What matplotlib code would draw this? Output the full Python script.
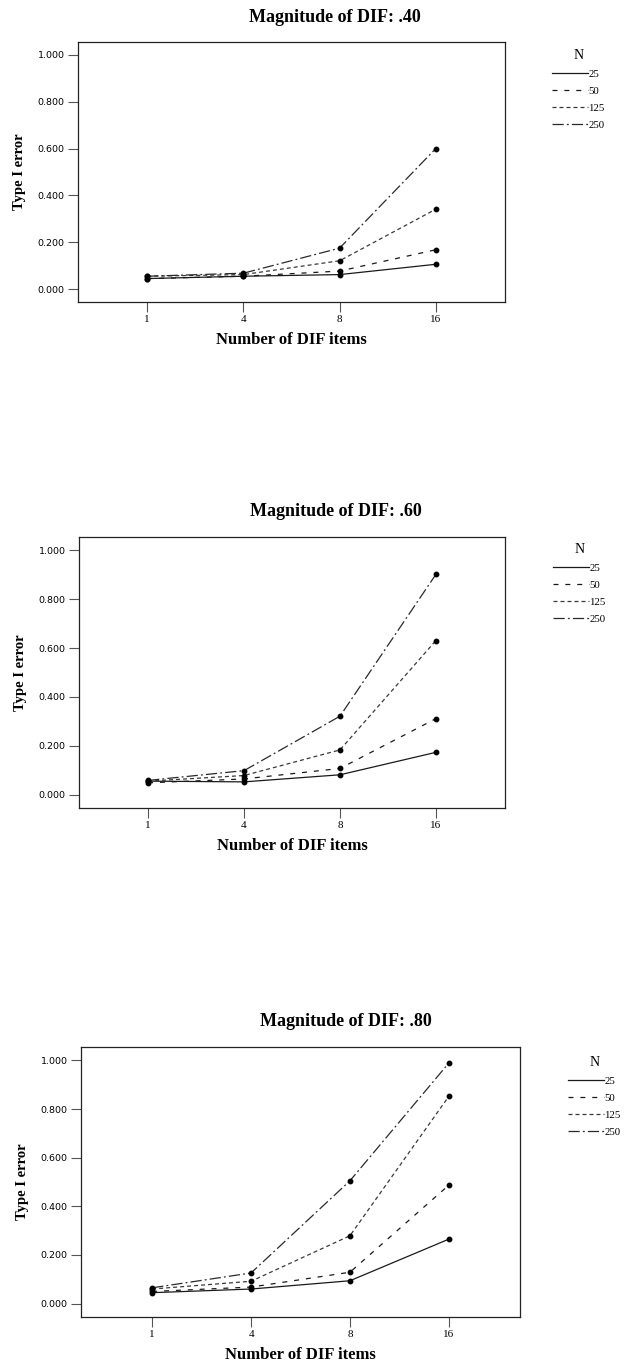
import matplotlib
matplotlib.use("Agg")
import matplotlib.pyplot as plt

x_labels = ['1', '4', '8', '16']
series_names = ['25', '50', '125', '250']
panel_titles = ['Magnitude of DIF: .40', 'Magnitude of DIF: .60', 'Magnitude of DIF: .80']

# DIF .40
d40_n25 = [0.045, 0.055, 0.062, 0.106]
d40_n50 = [0.045, 0.055, 0.077, 0.168]
d40_n125 = [0.055, 0.062, 0.121, 0.341]
d40_n250 = [0.055, 0.068, 0.175, 0.600]
# DIF .60
d60_n25 = [0.055, 0.052, 0.081, 0.173]
d60_n50 = [0.048, 0.064, 0.107, 0.311]
d60_n125 = [0.055, 0.078, 0.183, 0.631]
d60_n250 = [0.058, 0.098, 0.321, 0.902]
# DIF .80
d80_n25 = [0.045, 0.060, 0.094, 0.265]
d80_n50 = [0.050, 0.068, 0.129, 0.487]
d80_n125 = [0.060, 0.092, 0.279, 0.852]
d80_n250 = [0.065, 0.126, 0.505, 0.989]

y_ticks = [0.0, 0.2, 0.4, 0.6, 0.8, 1.0]

panels = [
    [d40_n25, d40_n50, d40_n125, d40_n250],
    [d60_n25, d60_n50, d60_n125, d60_n250],
    [d80_n25, d80_n50, d80_n125, d80_n250],
]

W, H = 625, 1368
fig = plt.figure(figsize=(W / 100, H / 100), dpi=100)
SERIF = ['Liberation Serif', 'DejaVu Serif']

# axes boxes in pixels: left, top, right, bottom
boxes = [(78, 42, 505, 302), (79, 537, 505, 808), (81, 1047, 520, 1317)]
title_pos = [(335, 17), (336, 512), (346, 1021)]
legend_pos = [(552, 49), (553, 543), (568, 1056)]

styles = [
    dict(linestyle='-'),
    dict(dashes=(4, 5.5)),
    dict(dashes=(3.2, 2.4)),
    dict(dashes=(9, 2.5, 1.5, 2.5)),
]
colors = ['#1a1a1a', '#1a1a1a', '#3a3a3a', '#2a2a2a']

xpos = list(range(len(x_labels)))
for i, (data, box) in enumerate(zip(panels, boxes)):
    l, t, r, b = box
    ax = fig.add_axes([l / W, (H - b) / H, (r - l) / W, (b - t) / H])
    for k, vals in enumerate(data):
        ax.plot(xpos, vals, color=colors[k], lw=0.9, marker='o',
                markersize=3.2, markerfacecolor='black', markeredgecolor='black',
                label=series_names[k], **styles[k])
    ax.set_xlim(-0.72, 3.72)
    ax.set_ylim(-0.055, 1.055)
    ax.set_xticks(xpos)
    ax.set_xticklabels(x_labels, fontfamily=SERIF, fontsize=8)
    ax.set_yticks(y_ticks)
    ax.set_yticklabels([f'{v:.3f}' for v in y_ticks], fontfamily='DejaVu Sans', fontsize=6.8)
    ax.tick_params(axis='both', direction='out', length=7.2, width=0.8, color='#555555')
    ax.tick_params(axis='x', pad=2)
    ax.tick_params(axis='y', pad=2.5)
    for sp in ax.spines.values():
        sp.set_linewidth(0.9)
        sp.set_color('#222222')
    ax.set_xlabel('Number of DIF items', fontfamily=SERIF, fontweight='bold', fontsize=12, labelpad=6)
    ax.set_ylabel('Type I error', fontfamily=SERIF, fontweight='bold', fontsize=10.5, labelpad=8)
    tx, ty = title_pos[i]
    fig.text(tx / W, 1 - ty / H, panel_titles[i], ha='center', va='center',
             fontfamily=SERIF, fontweight='bold', fontsize=13)
    lx, ly = legend_pos[i]
    leg = ax.legend(handles=[plt.Line2D([0], [0], color=colors[k], lw=0.9, **styles[k]) for k in range(4)],
                    labels=series_names, title='N', loc='upper left',
                    bbox_to_anchor=(lx / W, 1 - ly / H), bbox_transform=fig.transFigure,
                    frameon=False, borderpad=0, borderaxespad=0, handlelength=3.3,
                    handletextpad=0.05, labelspacing=0.68,
                    prop={'family': SERIF, 'size': 7.8})
    leg.get_title().set_fontfamily(SERIF)
    leg.get_title().set_fontsize(10)

fig.savefig('out.png', dpi=100)
